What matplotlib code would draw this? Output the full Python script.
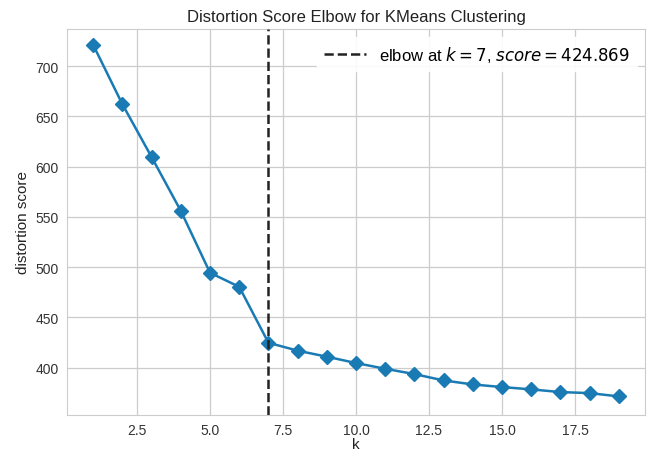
import matplotlib
matplotlib.use("Agg")
import numpy as np
from matplotlib import pyplot as plt

# data
k_values = list(range(1, 20))
scores = [721, 662, 609.5, 556, 494.5, 480.5, 424.869, 417, 411, 404.7, 399,
          393.7, 387.4, 383.4, 380.8, 378.5, 375.8, 374.8, 371.5]
elbow_k = 7
elbow_score = 424.869

plt.rcParams['font.family'] = ['Liberation Sans', 'DejaVu Sans']

fig = plt.figure(figsize=(6.52, 4.56), dpi=100)
ax = fig.add_axes([67 / 652, 1 - 416 / 456, (645 - 67) / 652, (416 - 30) / 456])

line_color = "#1a7bb4"
ax.plot(k_values, scores, color=line_color, lw=1.8, marker="D", markersize=7,
        markeredgecolor=line_color, zorder=3)
ax.axvline(elbow_k, color="#222222", ls="--", lw=1.8, zorder=4,
           label="elbow at $k=%d$, $score=%.3f$" % (elbow_k, elbow_score))

ax.set_xlim(0.1, 19.9)
ax.set_ylim(353, 737)
ax.set_xticks([2.5, 5.0, 7.5, 10.0, 12.5, 15.0, 17.5])
ax.set_yticks([400, 450, 500, 550, 600, 650, 700])
ax.grid(True, color="#cccccc", lw=0.9)
ax.set_axisbelow(True)
for s in ax.spines.values():
    s.set_color("#cccccc")
ax.tick_params(length=0, labelsize=10, colors="#333333", pad=6)

ax.set_title("Distortion Score Elbow for KMeans Clustering", fontsize=12, color="#222222")
ax.set_xlabel("k", fontsize=11, color="#222222", labelpad=0)
ax.set_ylabel("distortion score", fontsize=11, color="#222222")

leg = ax.legend(loc="upper right", fontsize=12, frameon=True, fancybox=False,
                handlelength=2.5)
leg.get_frame().set_edgecolor("white")
leg.get_frame().set_facecolor("white")
leg.get_frame().set_alpha(0.9)

plt.savefig("out.png", dpi=100)
